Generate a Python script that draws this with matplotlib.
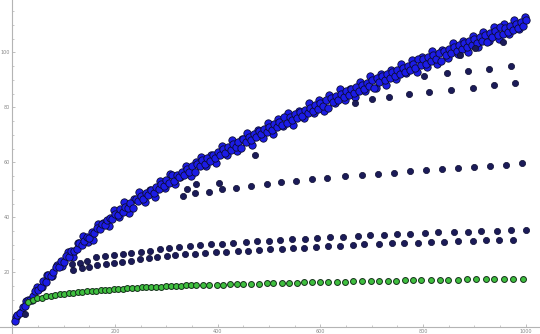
"""
Nuage de points : bande principale + sous-suites (style Mathematica ListPlot).
Sauvegarde out.png (540x334).
"""
import numpy as np
import matplotlib
matplotlib.use("Agg")
import matplotlib.pyplot as plt
from matplotlib.ticker import MultipleLocator

# --- bande principale (n = 5, 10, ..., 1000) ---
main_x = list(range(5, 1001, 5))
main_y = [
    2.4, 4.3, 5.1, 7.2, 7.6, 9.8, 9.9, 11.2, 13.3, 13.5,
    14.6, 16.8, 16.4, 18.9, 18.6, 20.1, 21.9, 21.8, 24.0, 23.9,
    25.8, 25.7, 27.9, 27.6, 28.4, 30.5, 30.1, 31.2, 33.0, 32.6,
    34.6, 34.3, 36.1, 35.6, 37.7, 37.2, 38.9, 39.8, 39.4, 41.3,
    40.8, 42.9, 42.1, 43.9, 43.2, 45.3, 43.5, 46.5, 45.9, 47.6,
    46.7, 48.8, 48.1, 49.9, 49.0, 51.1, 50.3, 52.0, 51.2, 53.4,
    52.4, 55.3, 53.2, 55.3, 54.6, 56.6, 55.5, 57.4, 56.4, 58.7,
    56.3, 59.5, 58.6, 60.7, 59.5, 61.6, 60.6, 62.7, 61.7, 63.6,
    62.6, 64.8, 63.5, 65.6, 64.6, 66.7, 65.4, 67.5, 65.2, 68.6,
    67.3, 69.2, 68.2, 70.4, 69.1, 71.2, 70.1, 72.1, 70.9, 73.0,
    71.9, 73.9, 72.8, 74.7, 73.5, 76.6, 74.4, 76.5, 75.2, 77.4,
    76.1, 78.1, 76.9, 79.1, 77.8, 79.9, 78.6, 80.8, 79.5, 81.7,
    80.3, 82.5, 79.8, 83.3, 81.9, 84.0, 82.8, 85.0, 83.6, 85.8,
    84.4, 86.6, 85.1, 87.4, 86.0, 88.2, 86.8, 89.0, 87.6, 89.8,
    87.0, 90.6, 89.1, 91.3, 89.9, 92.1, 90.7, 92.8, 91.4, 93.6,
    92.2, 94.4, 92.9, 95.1, 93.7, 95.9, 94.4, 97.6, 95.2, 97.4,
    95.9, 98.1, 96.7, 98.9, 97.4, 99.6, 97.0, 100.4, 98.9, 101.1,
    99.6, 101.8, 100.4, 102.6, 101.1, 103.3, 101.9, 104.1, 102.6, 104.8,
    103.3, 105.5, 104.0, 106.2, 103.6, 106.9, 105.4, 107.6, 106.1, 109.3,
    106.8, 109.0, 107.5, 109.7, 108.2, 110.4, 108.9, 111.1, 109.6, 111.8,
]

# --- bande principale, points intercales (n = 7.5, 17.5, ..., 997.5) ---
main2_x = [7.5 + 10 * k for k in range(100)]
main2_y = [
    3.8, 5.5, 9.4, 10.0, 14.5, 14.8, 19.1, 18.6, 22.7, 22.3,
    27.5, 25.6, 30.5, 33.3, 31.1, 31.9, 37.7, 37.9, 36.7, 42.8,
    40.0, 45.6, 41.7, 46.8, 49.1, 45.7, 49.8, 47.4, 53.2, 50.8,
    55.9, 52.1, 54.5, 58.7, 54.9, 60.2, 62.0, 58.6, 62.8, 59.8,
    65.8, 62.6, 68.1, 64.0, 68.3, 70.7, 66.4, 71.6, 68.9, 74.3,
    70.3, 75.8, 73.1, 78.0, 73.4, 78.6, 76.0, 81.6, 78.0, 82.7,
    78.8, 84.6, 81.5, 86.7, 82.5, 86.8, 83.6, 89.3, 86.0, 91.2,
    87.1, 92.2, 88.2, 93.5, 90.2, 95.9, 92.4, 97.1, 92.8, 98.2,
    94.8, 100.3, 95.9, 100.7, 97.9, 103.4, 99.2, 104.2, 100.2, 105.9,
    101.9, 107.5, 104.0, 109.1, 104.8, 110.2, 106.6, 111.8, 108.4, 112.9,
]

# --- points isoles sous la bande ---
extra_x = [24.7, 340.2, 357.7, 402.5, 472.6, 872.0, 901.0, 956.0]
extra_y = [4.8, 50.3, 52.1, 52.5, 62.7, 99.0, 101.5, 103.9]

# --- sous-suite A (haut, ~92-95) ---
rowA_x = [801.8, 846.6, 887.4, 928.3, 971.1]
rowA_y = [91.5, 92.5, 93.2, 94.0, 94.9]

# --- sous-suite B (~82-89) ---
rowB_x = [667.4, 700.5, 733.6, 772.5, 811.5, 854.3, 897.2, 938.0, 978.9]
rowB_y = [81.5, 83.0, 83.9, 84.8, 85.6, 86.3, 87.1, 88.0, 88.7]

# --- sous-suite E (~48-60) ---
rowE_x = [332.4, 355.8, 383.1, 408.4, 435.6, 464.9, 496.0, 523.3, 552.5, 583.6,
          612.9, 647.9, 681.0, 712.1, 743.3, 774.5, 805.7, 836.8, 868.0, 899.2,
          930.3, 961.5, 992.6]
rowE_y = [47.7, 48.8, 49.2, 50.3, 50.7, 51.4, 52.1, 52.7, 53.2, 53.8,
          54.3, 54.9, 55.4, 55.7, 56.2, 56.7, 57.1, 57.5, 57.9, 58.3,
          58.7, 59.0, 59.6]

# --- sous-suite C (~23-35) ---
rowC_x = [116.3, 131.8, 145.5, 163.0, 180.5, 198.0, 215.6, 231.2, 250.6, 268.2,
          287.6, 305.2, 324.6, 346.0, 365.5, 386.9, 408.4, 429.8, 455.1, 476.5,
          499.9, 521.3, 544.7, 570.0, 593.4, 618.7, 644.0, 673.2, 696.6, 723.9,
          749.2, 774.5, 803.7, 829.0, 860.2, 887.4, 912.7, 943.9, 971.1, 1000.4]
rowC_y = [23.0, 23.5, 24.2, 25.5, 25.9, 26.3, 26.7, 27.1, 27.5, 27.9,
          28.4, 28.7, 29.2, 29.6, 29.8, 30.2, 30.4, 30.7, 31.0, 31.3,
          31.5, 31.7, 32.0, 32.2, 32.5, 32.7, 32.9, 33.3, 33.5, 33.6,
          33.8, 34.0, 34.2, 34.5, 34.7, 34.8, 35.0, 35.1, 35.3, 35.5]

# --- sous-suite D (~21-32) ---
rowD_x = [118.2, 135.7, 149.4, 164.9, 182.5, 198.0, 213.6, 231.2, 248.7, 266.2,
          281.8, 301.3, 316.8, 336.3, 355.8, 375.3, 396.7, 416.2, 439.5, 459.0,
          480.4, 501.8, 525.2, 546.6, 568.1, 591.4, 614.8, 638.2, 663.5, 684.9,
          714.1, 739.4, 762.8, 790.1, 815.3, 840.7, 868.0, 897.2, 922.4, 947.8,
          975.0]
rowD_y = [20.8, 21.5, 21.8, 22.7, 23.0, 23.5, 23.9, 24.2, 24.7, 25.1,
          25.6, 25.9, 26.3, 26.5, 26.7, 27.0, 27.3, 27.4, 27.7, 27.9,
          28.1, 28.4, 28.6, 28.7, 28.9, 29.3, 29.6, 29.7, 29.9, 30.2,
          30.3, 30.5, 30.7, 30.8, 30.9, 31.1, 31.3, 31.5, 31.6, 31.7,
          31.9]

# --- suite verte (la plus basse) ---
green_x = [30.6, 40.3, 48.1, 57.8, 65.6, 75.3, 83.2, 92.9, 100.7, 110.4,
           118.2, 127.9, 135.7, 145.5, 154.6, 163.0, 172.2, 180.5, 188.9, 198.0,
           206.4, 215.0, 223.9, 232.5, 242.3, 252.0, 260.4, 270.1, 279.8, 289.0,
           299.3, 308.5, 318.8, 328.0, 337.7, 347.0, 357.2, 370.8, 383.6, 398.0,
           409.7, 424.0, 438.2, 449.8, 465.4, 481.0, 495.4, 507.7, 525.8, 538.8,
           555.0, 568.1, 584.2, 599.2, 615.4, 631.7, 647.3, 664.1, 681.0, 698.5,
           714.1, 731.6, 747.2, 764.7, 780.3, 795.9, 815.3, 832.8, 848.4, 867.9,
           885.4, 902.9, 922.4, 938.0, 957.4, 974.9, 994.4]
green_y = [9.3, 10.0, 10.5, 10.8, 11.2, 11.5, 11.7, 12.0, 12.2, 12.4,
           12.6, 12.8, 12.9, 13.1, 13.2, 13.3, 13.5, 13.6, 13.7, 13.9,
           14.0, 14.1, 14.2, 14.3, 14.4, 14.5, 14.5, 14.7, 14.7, 14.8,
           14.9, 14.9, 15.0, 15.1, 15.2, 15.2, 15.2, 15.3, 15.4, 15.5,
           15.5, 15.6, 15.7, 15.7, 15.8, 15.9, 16.0, 16.0, 16.1, 16.1,
           16.2, 16.3, 16.4, 16.4, 16.5, 16.5, 16.6, 16.7, 16.7, 16.8,
           16.8, 16.9, 17.0, 17.1, 17.1, 17.1, 17.1, 17.2, 17.2, 17.3,
           17.4, 17.4, 17.4, 17.5, 17.5, 17.6, 17.6]

NAVY = "#1b1b58"
EDGE = "#0c0c30"

fig = plt.figure(figsize=(5.4, 3.34), dpi=100)
ax = fig.add_axes([0, 0, 1, 1])

ax.scatter(main2_x, main2_y, s=28, c="#1c1ce6", edgecolors=EDGE, linewidths=0.6, zorder=3)
ax.scatter(main_x, main_y, s=28, c="#1c1ce6", edgecolors=EDGE, linewidths=0.6, zorder=3)
for xs, ys in [(extra_x, extra_y), (rowA_x, rowA_y), (rowB_x, rowB_y),
               (rowE_x, rowE_y), (rowC_x, rowC_y), (rowD_x, rowD_y)]:
    ax.scatter(xs, ys, s=20, c=NAVY, edgecolors=EDGE, linewidths=0.5, zorder=4)
ax.scatter(green_x, green_y, s=18, c="#3fbf3f", edgecolors="#14301a", linewidths=0.7, zorder=5)

ax.set_xlim(-24, 1027.6)
ax.set_ylim(-2.44, 119.0)

for s in ("top", "right"):
    ax.spines[s].set_visible(False)
for s in ("left", "bottom"):
    ax.spines[s].set_position(("data", 0))
    ax.spines[s].set_color("#b4b4b4")
    ax.spines[s].set_linewidth(0.8)

ax.xaxis.set_major_locator(MultipleLocator(200))
ax.xaxis.set_minor_locator(MultipleLocator(50))
ax.yaxis.set_major_locator(MultipleLocator(20))
ax.yaxis.set_minor_locator(MultipleLocator(5))
ax.set_xticks([200, 400, 600, 800, 1000])
ax.set_yticks([20, 40, 60, 80, 100])
ax.tick_params(which="both", direction="in", colors="#b4b4b4", labelcolor="#888888",
               labelsize=3.5, pad=1.5)
ax.tick_params(which="major", length=2.5, width=0.6)
ax.tick_params(which="minor", length=1.5, width=0.5)

fig.savefig("out.png", dpi=100)
